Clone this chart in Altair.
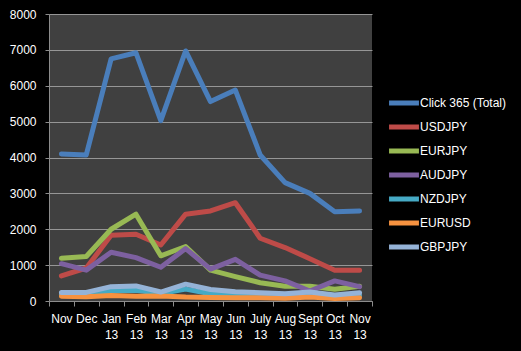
import altair as alt
import pandas as pd

months = ["Nov", "Dec", "Jan 13", "Feb 13", "Mar 13", "Apr 13", "May 13",
          "Jun 13", "July 13", "Aug 13", "Sept 13", "Oct 13", "Nov 13"]

series_names = ["Click 365 (Total)", "USDJPY", "EURJPY", "AUDJPY", "NZDJPY", "EURUSD", "GBPJPY"]
series_colors = ["#4A7EBB", "#BE4B48", "#98B954", "#7D60A0", "#46AAC5", "#F69240", "#95B3D7"]

click365 = [4100, 4070, 6750, 6920, 5030, 6970, 5560, 5880, 4070, 3300, 3000, 2490, 2510]
usdjpy = [700, 920, 1830, 1860, 1560, 2420, 2510, 2740, 1750, 1490, 1180, 860, 860]
eurjpy = [1190, 1240, 2000, 2420, 1260, 1520, 860, 680, 510, 410, 410, 330, 410]
audjpy = [1040, 860, 1360, 1210, 940, 1460, 890, 1160, 720, 560, 280, 560, 400]
nzdjpy = [180, 180, 280, 300, 210, 330, 200, 150, 130, 110, 160, 100, 150]
eurusd = [130, 120, 150, 130, 140, 110, 100, 90, 90, 80, 110, 70, 90]
gbpjpy = [240, 240, 400, 420, 250, 470, 320, 260, 230, 200, 250, 170, 230]

values = [click365, usdjpy, eurjpy, audjpy, nzdjpy, eurusd, gbpjpy]

rows = []
for name, vals in zip(series_names, values):
    for m, v in zip(months, vals):
        rows.append({"month": m, "series": name, "value": v})
df = pd.DataFrame(rows)

FONT = "Liberation Sans"

chart = alt.Chart(df).mark_line(strokeWidth=5, strokeJoin="round", strokeCap="round").encode(
    x=alt.X("month:N", sort=months, bandPosition=0.5,
            scale=alt.Scale(type="band", paddingInner=0, paddingOuter=0),
            axis=alt.Axis(title=None, labelAngle=0, tickBand="extent",
                          labelExpr="datum.value ? split(datum.value, ' ') : ''",
                          labelColor="white", labelFont=FONT, labelFontSize=12,
                          labelLineHeight=16, labelPadding=7, tickSize=5,
                          tickColor="#8c8c8c", domainColor="#8c8c8c", grid=False,
                          labelBaseline="top")),
    y=alt.Y("value:Q", scale=alt.Scale(domain=[0, 8000], nice=False),
            axis=alt.Axis(title=None, values=[0, 1000, 2000, 3000, 4000, 5000, 6000, 7000, 8000],
                          format="d", labelColor="white", labelFont=FONT, labelFontSize=12,
                          labelPadding=9, tickSize=4, tickColor="#8c8c8c",
                          domainColor="#8c8c8c", gridColor="#969696", gridWidth=1)),
    color=alt.Color("series:N", sort=series_names,
                    scale=alt.Scale(domain=series_names, range=series_colors),
                    legend=alt.Legend(title=None, orient="none", legendX=341, legendY=75,
                                      symbolType="M-1.3,0H1.3", symbolStrokeWidth=5,
                                      symbolSize=529,
                                      labelColor="white", labelFont=FONT, labelFontSize=12,
                                      labelOffset=2, rowPadding=0, labelLimit=200)),
    detail="series:N",
).properties(
    width=323, height=287,
    background="black",
    padding={"left": 49, "top": 14, "right": 149, "bottom": 50},
    autosize=alt.AutoSizeParams(type="none"),
).configure_view(fill="#404040", stroke=None)

chart.save("out.html", embed_options={"renderer": "svg", "actions": False})
